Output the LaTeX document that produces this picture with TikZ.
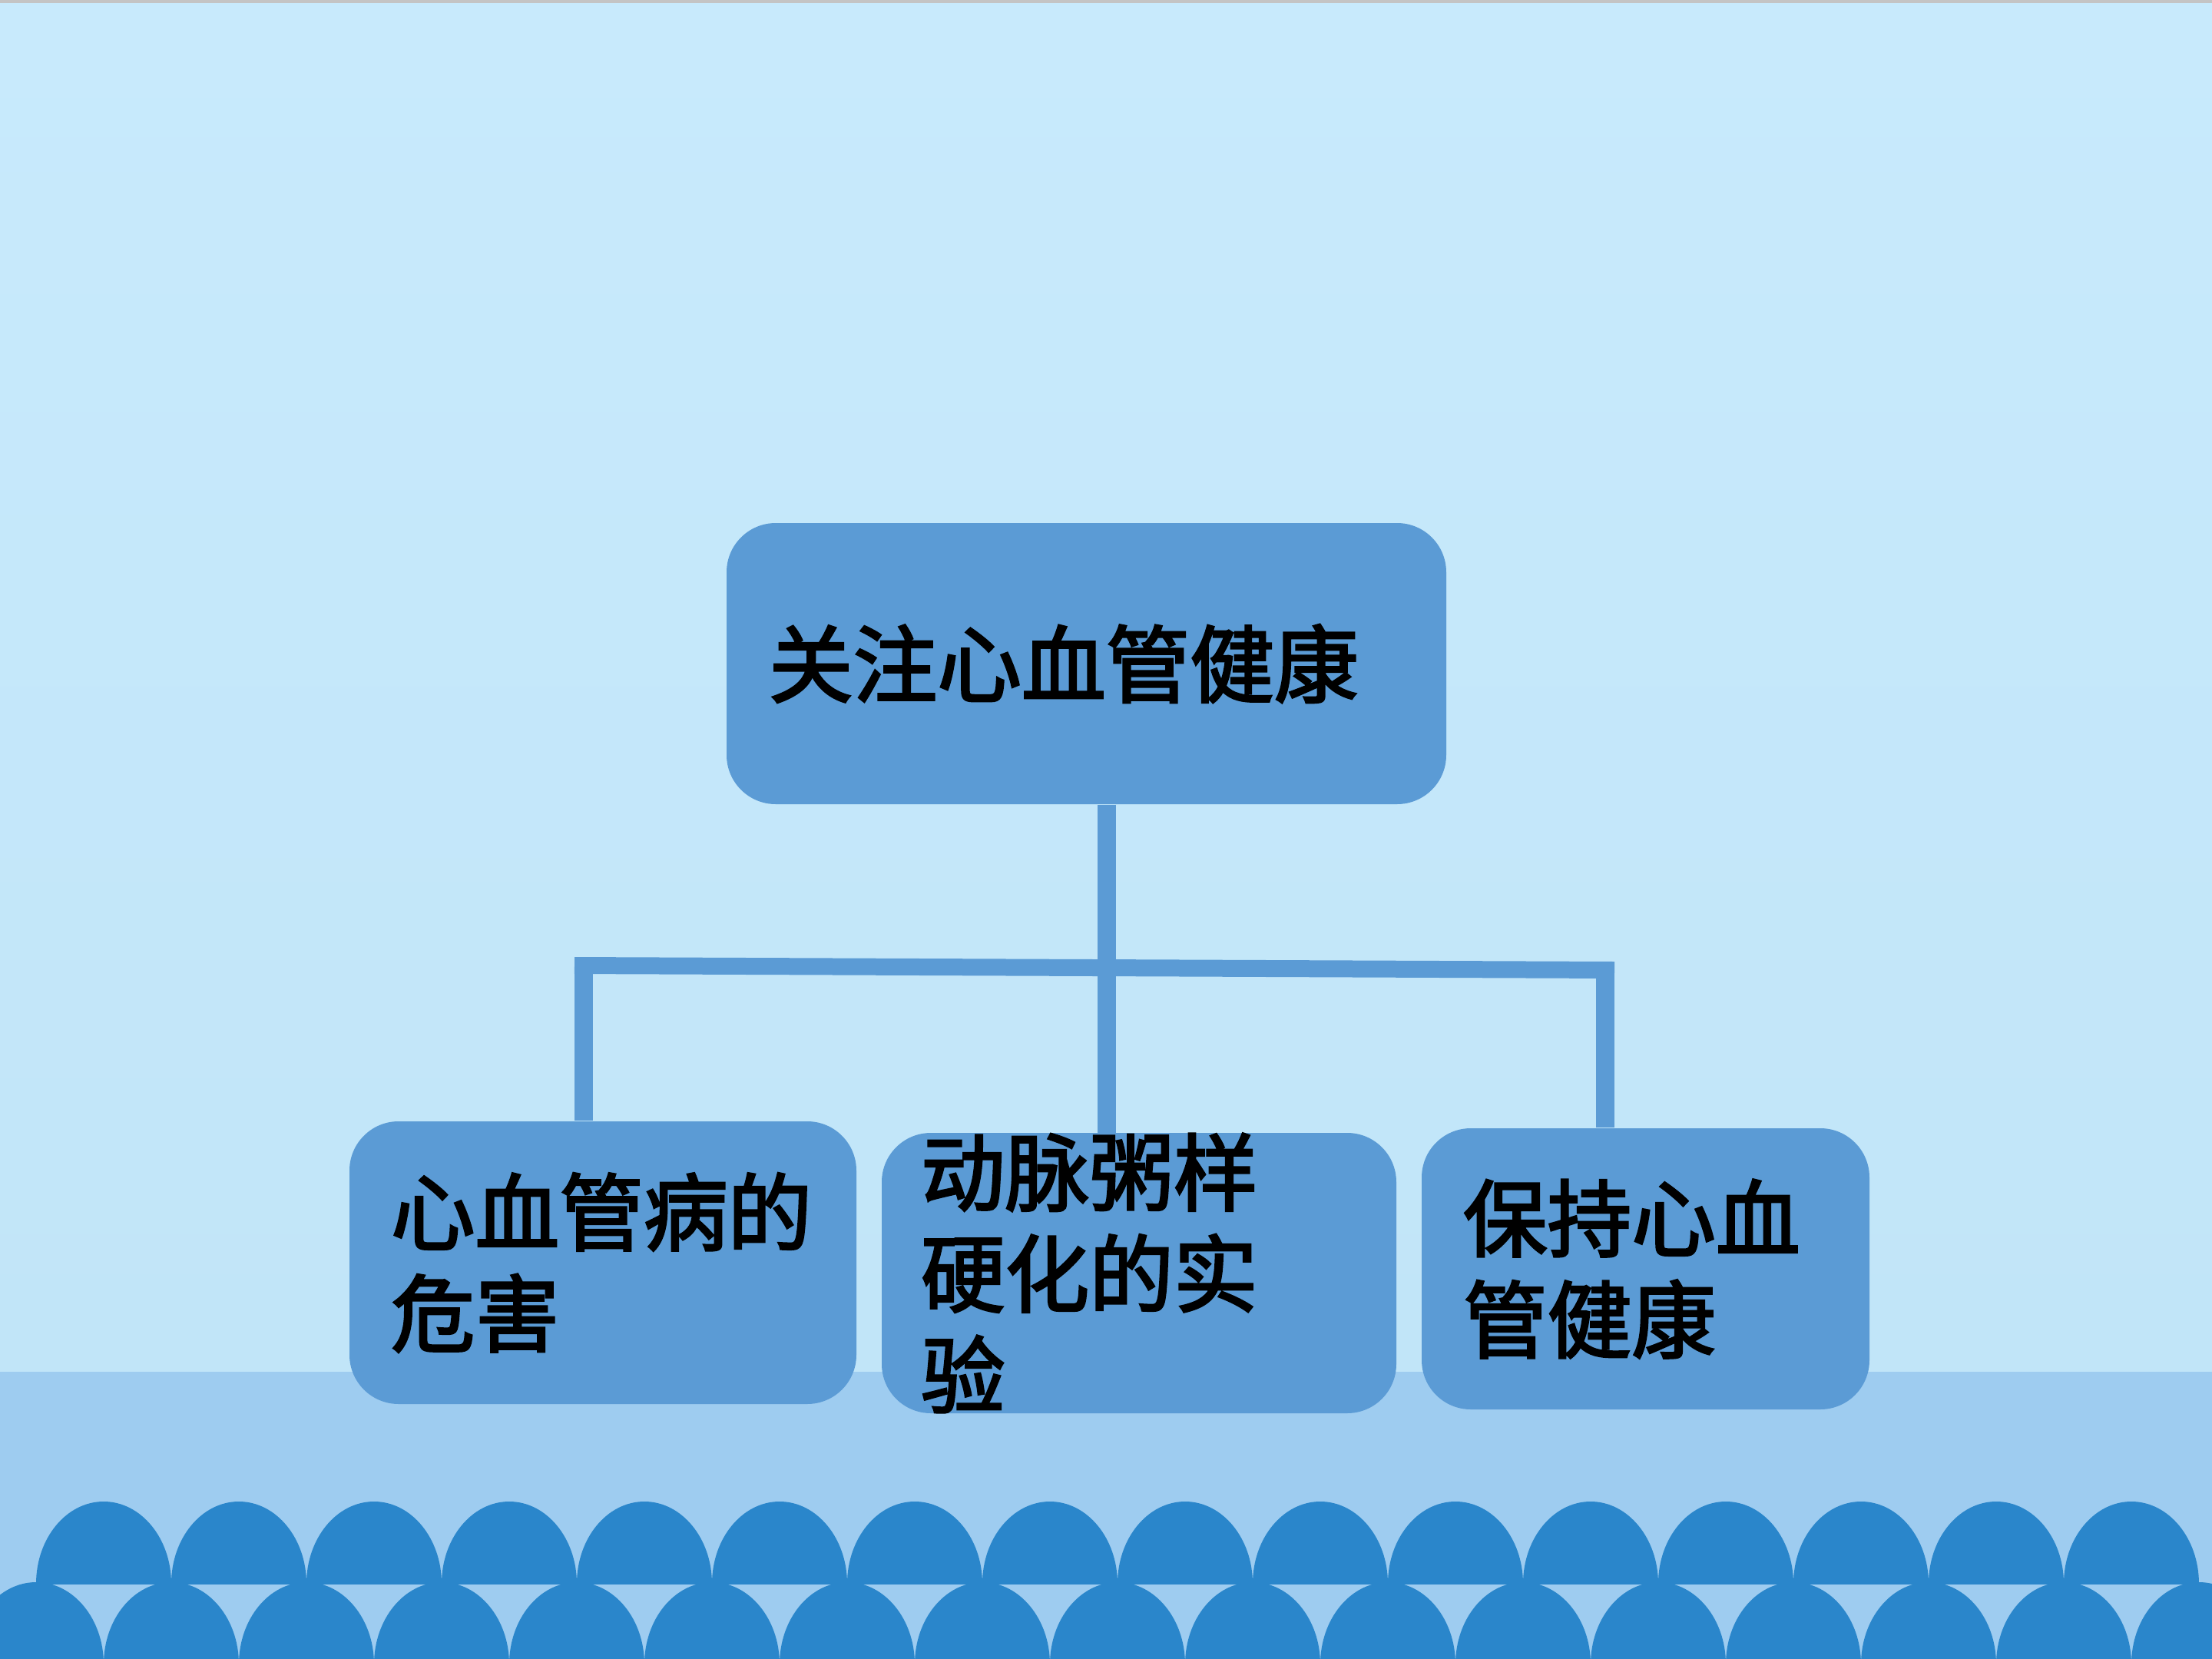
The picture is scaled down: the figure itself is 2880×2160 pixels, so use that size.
\documentclass[tikz,border=0pt]{standalone}
\usepackage{fontspec}
\setmainfont{Noto Sans CJK SC}
\newfontfamily\medcjk{Noto Sans CJK SC}[FakeBold=2.6]
\definecolor{bgtop}{HTML}{C8EAFC}
\definecolor{bgbot}{HTML}{C1E5F8}
\definecolor{band}{HTML}{9ECCF0}
\definecolor{scal}{HTML}{2A86CB}
\definecolor{boxc}{HTML}{5B9BD5}
\definecolor{edge}{HTML}{C4C4C4}
\tikzset{
  box/.style={fill=boxc, draw=none, rounded corners=6.4mm, inner sep=0pt},
  txt/.style={inner sep=0pt, align=left, text=black, font=\medcjk\fontsize{31.2pt}{37.5pt}\selectfont},
  conn/.style={draw=boxc, line width=2.4mm},
  hconn/.style={draw=boxc, line width=2.2mm}
}
\begin{document}
\begin{tikzpicture}[x=0.1mm,y=-0.1mm]
\useasboundingbox (0,0) rectangle (2880,2160);
\clip (0,0) rectangle (2880,2160);
% background
\shade[top color=bgtop, bottom color=bgbot] (0,0) rectangle (2880,1786);
\fill[edge] (0,0) rectangle (2880,4);
\fill[band] (0,1786) rectangle (2880,2160);
% scallops, upper row
\begin{scope}
\clip (0,1900) rectangle (2880,2062);
\foreach \k in {0,...,15} \fill[scal] ({135+176*\k},2062) ellipse [x radius=88, y radius=107];
\end{scope}
% scallops, lower row
\foreach \k in {0,...,16} \fill[scal] ({47+176*\k},2167) ellipse [x radius=88, y radius=107];
% boxes
\node[box, minimum width=93.7mm, minimum height=36.6mm] (top) at (1414.5,864) {};
\node[box, minimum width=66mm, minimum height=36.8mm] (lb) at (785,1644) {};
\node[box, minimum width=67mm, minimum height=36.5mm] (mb) at (1483,1657.5) {};
\node[box, minimum width=58.3mm, minimum height=36.6mm] (rb) at (2142.5,1652) {};
% texts
\node[txt, text width=82.7mm] (toptxt) at (top.center) {关注心血管健康};
\node[txt, text width=55.2mm] (lbtxt) at (lb.center) {心血管病的\\危害};
\node[txt, text width=56.8mm] (mbtxt) at (mb.center) {动脉粥样\\硬化的实\\验};
\node[txt, text width=47.5mm] (rbtxt) at (rb.center) {保持心血\\管健康};
% connector coordinates
\coordinate (cm) at (1441,1257);
\coordinate (hl) at (760,1257);
\coordinate (hr) at (2090,1263);
% connectors
\draw[conn] (cm |- top.south) -- ([yshift=-0.3mm]cm |- mb.north);
\draw[hconn] ([xshift=-1.2mm]hl) -- ([xshift=1.2mm]hr);
\draw[conn] ([yshift=1.1mm]hl) -- (hl |- lb.north);
\draw[conn] ([yshift=1.1mm]hr) -- (hr |- rb.north);
\end{tikzpicture}
\end{document}
